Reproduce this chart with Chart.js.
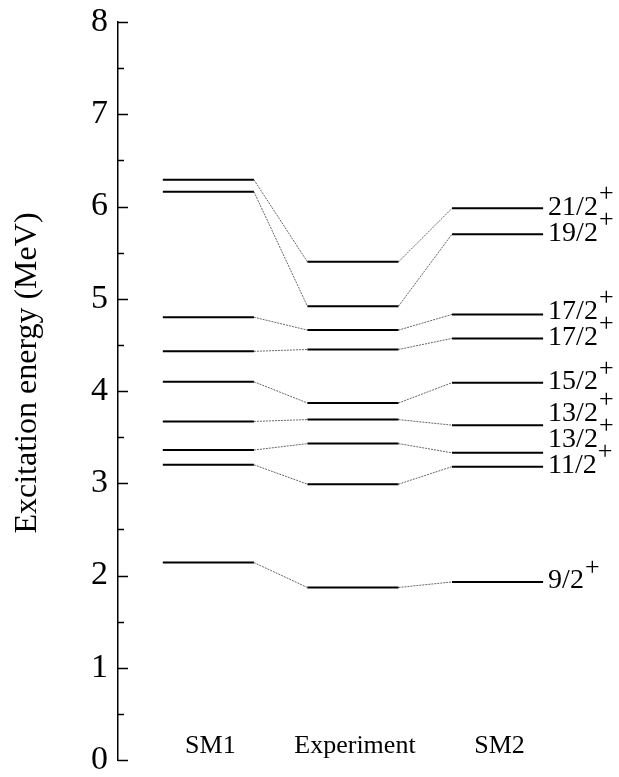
<!DOCTYPE html>
<html><head><meta charset="utf-8">
<script src="https://cdn.jsdelivr.net/npm/chart.js@4/dist/chart.umd.min.js"></script>
<style>html,body{margin:0;padding:0;background:#fff;} #wrap{width:619px;height:777px;}</style>
</head><body><div id="wrap"><canvas id="c" width="619" height="777"></canvas></div>
<script>
// ---- data (MeV) ----
const columns = ['SM1', 'Experiment', 'SM2'];
const spins = ['9/2', '11/2', '13/2', '13/2', '15/2', '17/2', '17/2', '19/2', '21/2'];
const parity = '+';
const sm1Levels = [2.14, 3.20, 3.36, 3.67, 4.10, 4.43, 4.80, 6.16, 6.29];
const experimentLevels = [1.87, 2.99, 3.43, 3.69, 3.87, 4.45, 4.66, 4.92, 5.40];
const sm2Levels = [1.93, 3.18, 3.33, 3.63, 4.09, 4.57, 4.83, 5.70, 5.98];
const yTickValues = [0, 1, 2, 3, 4, 5, 6, 7, 8];
const yTitle = 'Excitation energy (MeV)';

// ---- styling ----
const SERIF = '"Liberation Serif", "Times New Roman", serif';
const HALF = 0.315;
const allColumns = [sm1Levels, experimentLevels, sm2Levels];

function levelPoints(colIdx, vals) {
  const pts = [];
  const c = colIdx + 1;
  vals.forEach(v => {
    pts.push({x: c - HALF, y: v});
    pts.push({x: c + HALF, y: v});
    pts.push({x: c + HALF + 0.01, y: null});
  });
  return pts;
}
function connectorPoints(a, b) {
  const pts = [];
  const va = allColumns[a], vb = allColumns[b];
  va.forEach((v, i) => {
    pts.push({x: a + 1 + HALF, y: v});
    pts.push({x: b + 1 - HALF, y: vb[i]});
    pts.push({x: b + 1 - HALF + 0.01, y: null});
  });
  return pts;
}

const datasets = [];
allColumns.forEach((vals, i) => {
  datasets.push({
    label: columns[i], data: levelPoints(i, vals),
    borderColor: '#000', borderWidth: 2, pointRadius: 0, spanGaps: false,
    fill: false, tension: 0, borderCapStyle: 'butt'
  });
});
[[0, 1], [1, 2]].forEach(([a, b]) => {
  datasets.push({
    label: 'link', data: connectorPoints(a, b),
    borderColor: '#666', borderWidth: 1, borderDash: [2, 1], pointRadius: 0,
    spanGaps: false, fill: false, tension: 0
  });
});

const decor = {
  id: 'decor',
  afterDraw(chart) {
    const ctx = chart.ctx;
    const xs = chart.scales.x, ys = chart.scales.y;
    const left = chart.chartArea.left;
    ctx.save();
    // inside ticks
    ctx.strokeStyle = '#000';
    ctx.lineWidth = 1.5;
    for (let v = 0; v <= 8.001; v += 0.5) {
      const y = Math.round(ys.getPixelForValue(v)) + 0.5;
      const len = (Math.abs(v - Math.round(v)) < 1e-6) ? 10 : 6;
      ctx.beginPath();
      ctx.moveTo(left, y);
      ctx.lineTo(left + len, y);
      ctx.stroke();
    }
    ctx.fillStyle = '#000';
    // y axis title
    ctx.save();
    ctx.translate(28, (ys.top + ys.bottom) / 2 - 18);
    ctx.rotate(-Math.PI / 2);
    ctx.font = '32px ' + SERIF;
    ctx.textAlign = 'center';
    ctx.textBaseline = 'middle';
    ctx.fillText(yTitle, 0, 0);
    ctx.restore();
    // category labels
    ctx.font = '26px ' + SERIF;
    ctx.textAlign = 'center';
    ctx.textBaseline = 'middle';
    columns.forEach((name, i) => {
      ctx.fillText(name, xs.getPixelForValue(i + 1) + 2, ys.getPixelForValue(0) - 14);
    });
    // spin labels on SM2 side, pushed apart from bottom up
    const order = sm2Levels.map((v, i) => i).sort((a, b) => sm2Levels[a] - sm2Levels[b]);
    let prev = Infinity;
    const lx = xs.getPixelForValue(3 + HALF) + 5;
    ctx.textAlign = 'left';
    order.forEach(i => {
      let y = Math.min(ys.getPixelForValue(sm2Levels[i]) - 1, prev - 26);
      prev = y;
      ctx.font = '28px ' + SERIF;
      ctx.fillText(spins[i], lx, y);
      const w = ctx.measureText(spins[i]).width;
      ctx.font = '26px ' + SERIF;
      ctx.fillText(parity, lx + w + 1, y - 13);
    });
    ctx.restore();
  }
};

new Chart(document.getElementById('c'), {
  type: 'line',
  data: {datasets},
  options: {
    responsive: false, animation: false, devicePixelRatio: 1,
    layout: {padding: {top: 22, bottom: 17, left: 0, right: 13}},
    plugins: {legend: {display: false}, tooltip: {enabled: false}},
    scales: {
      x: {type: 'linear', min: 0.375, max: 3.75, display: false},
      y: {
        type: 'linear', min: 0, max: 8,
        afterBuildTicks: s => { s.ticks = yTickValues.map(v => ({value: v})); },
        afterFit: s => { s.width = 118; s.paddingTop = 0; s.paddingBottom = 0; },
        ticks: {color: '#000', font: {family: SERIF, size: 34}, padding: 10},
        grid: {display: true, drawOnChartArea: false, drawTicks: false},
        border: {display: true, color: '#000', width: 1.5},
        title: {display: false}
      }
    }
  },
  plugins: [decor]
});
</script>
</body></html>
